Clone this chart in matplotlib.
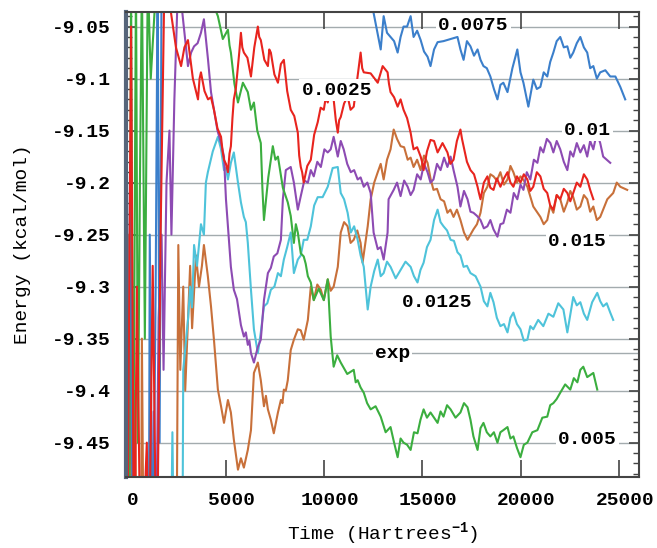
import matplotlib
matplotlib.use("Agg")
import matplotlib.pyplot as plt
import matplotlib.transforms as mtransforms
from matplotlib.ticker import MultipleLocator

plt.rcParams['font.family'] = ['Liberation Mono', 'DejaVu Sans']
plt.rcParams['font.weight'] = 'bold'
plt.rcParams['axes.unicode_minus'] = False
plt.rcParams['mathtext.fontset'] = 'custom'
plt.rcParams['mathtext.rm'] = 'Liberation Mono:bold'
plt.rcParams['mathtext.it'] = 'Liberation Mono:bold'
plt.rcParams['mathtext.bf'] = 'Liberation Mono:bold'

# energy traces: (time in Hartree^-1, energy in kcal/mol)
run_0025 = [(0, -9.60), (200, -9.05), (350, -9.60), (500, -9.30), (700, -9.60), (1000, -9.45), (1100, -9.60),
            (1300, -9.28), (1500, -9.60), (1700, -9.25), (1900, -9.00), (2230, -9.037), (2480, -9.070),
            (2740, -9.088), (2910, -9.070), (3090, -9.063), (3340, -9.100), (3600, -9.120), (3680, -9.100),
            (3750, -9.094), (3930, -9.112), (4110, -9.120), (4260, -9.118), (4410, -9.130), (4590, -9.148),
            (4770, -9.156), (4850, -9.170), (4920, -9.178), (5020, -9.182), (5120, -9.190), (5200, -9.172),
            (5270, -9.165), (5350, -9.138), (5420, -9.120), (5520, -9.110), (5630, -9.088), (5700, -9.074),
            (5780, -9.056), (5850, -9.070), (5930, -9.075), (6110, -9.080), (6290, -9.098), (6460, -9.070),
            (6640, -9.050), (6710, -9.060), (6790, -9.063), (6970, -9.082), (7150, -9.088), (7220, -9.072),
            (7300, -9.075), (7480, -9.096), (7660, -9.104), (7810, -9.086), (7960, -9.082), (8130, -9.112),
            (8310, -9.130), (8490, -9.136), (8670, -9.152), (8740, -9.174), (8820, -9.185), (8890, -9.190),
            (8970, -9.200), (9150, -9.184), (9330, -9.178), (9500, -9.154), (9680, -9.142), (9830, -9.128),
            (9990, -9.130), (10090, -9.118), (10190, -9.123), (10340, -9.110), (10490, -9.120), (10600, -9.140),
            (10700, -9.152), (10770, -9.140), (10850, -9.137), (11020, -9.124), (11200, -9.117), (11350, -9.130),
            (11510, -9.127), (11690, -9.100), (11860, -9.075), (11940, -9.090), (12020, -9.094), (12370, -9.095),
            (12730, -9.104), (12980, -9.088), (13230, -9.094), (13300, -9.105), (13380, -9.113), (13560, -9.118),
            (13740, -9.127), (13890, -9.120), (14040, -9.130), (14220, -9.138), (14400, -9.152), (14470, -9.160),
            (14550, -9.168), (14730, -9.166), (14910, -9.175), (14980, -9.180), (15060, -9.188), (15230, -9.170),
            (15410, -9.159), (15590, -9.160), (15770, -9.171), (16020, -9.162), (16270, -9.171), (16420, -9.182),
            (16580, -9.178), (16750, -9.160), (16930, -9.149), (17010, -9.158), (17090, -9.165), (17260, -9.180),
            (17440, -9.188), (17620, -9.192), (17800, -9.204), (17870, -9.210), (17950, -9.216), (18120, -9.200),
            (18300, -9.194), (18450, -9.205), (18610, -9.207), (18780, -9.196), (18960, -9.204), (19140, -9.196),
            (19320, -9.190), (19470, -9.200), (19620, -9.204), (19800, -9.194), (19980, -9.200), (20150, -9.192),
            (20330, -9.197), (20480, -9.208), (20630, -9.204), (20810, -9.190), (20990, -9.194), (21160, -9.206),
            (21340, -9.210), (21490, -9.222), (21650, -9.226), (21820, -9.212), (22000, -9.216), (22180, -9.206),
            (22360, -9.210), (22510, -9.218), (22660, -9.210), (22840, -9.200), (23020, -9.204), (23200, -9.192),
            (23370, -9.197), (23520, -9.207), (23680, -9.216)]

run_005 = [(0, -9.30), (100, -9.60), (200, -9.00), (300, -9.55), (450, -9.00), (550, -9.45), (650, -9.20),
           (750, -9.00), (900, -9.35), (1050, -9.00), (1200, -9.10), (1500, -9.00), (2500, -8.98), (3500, -9.00),
           (4400, -9.030), (4610, -9.040), (4860, -9.062), (5120, -9.053), (5200, -9.068), (5270, -9.075),
           (5450, -9.105), (5630, -9.123), (5880, -9.104), (6130, -9.113), (6290, -9.130), (6440, -9.123),
           (6610, -9.150), (6790, -9.162), (6870, -9.205), (6950, -9.236), (7170, -9.195), (7400, -9.165),
           (7530, -9.178), (7660, -9.175), (7910, -9.205), (8160, -9.219), (8310, -9.232), (8470, -9.258),
           (8570, -9.240), (8670, -9.248), (8820, -9.268), (8970, -9.271), (9070, -9.278), (9180, -9.290),
           (9330, -9.296), (9480, -9.313), (9730, -9.302), (9990, -9.313), (10190, -9.293), (10340, -9.348),
           (10490, -9.377), (10670, -9.366), (10850, -9.373), (11180, -9.384), (11510, -9.380), (11610, -9.392),
           (11710, -9.390), (11860, -9.397), (12020, -9.402), (12190, -9.412), (12370, -9.418), (12620, -9.415),
           (12880, -9.425), (13130, -9.440), (13380, -9.435), (13560, -9.450), (13740, -9.464), (13890, -9.446),
           (14040, -9.450), (14220, -9.452), (14400, -9.457), (14570, -9.440), (14750, -9.441), (14900, -9.428),
           (15060, -9.418), (15230, -9.426), (15410, -9.421), (15590, -9.426), (15770, -9.431), (15920, -9.420),
           (16070, -9.425), (16250, -9.414), (16430, -9.418), (16680, -9.426), (16930, -9.421), (17110, -9.412),
           (17290, -9.416), (17440, -9.428), (17590, -9.444), (17800, -9.457), (17950, -9.436), (18100, -9.431),
           (18270, -9.440), (18450, -9.444), (18630, -9.440), (18810, -9.450), (18960, -9.440), (19110, -9.438),
           (19320, -9.435), (19470, -9.446), (19620, -9.444), (19800, -9.455), (19980, -9.464), (20150, -9.452),
           (20330, -9.450), (20580, -9.440), (20840, -9.438), (21090, -9.426), (21340, -9.425), (21490, -9.414),
           (21650, -9.412), (21820, -9.408), (22000, -9.402), (22250, -9.394), (22510, -9.399), (22690, -9.388),
           (22870, -9.392), (23020, -9.380), (23170, -9.377), (23370, -9.387), (23680, -9.383), (23880, -9.399)]

run_0075 = [(0, -9.60), (150, -9.18), (300, -9.60), (1100, -9.60), (1150, -9.25), (1300, -9.60), (1450, -9.30),
            (1550, -9.00), (1650, -9.45), (1750, -9.00), (2000, -9.00), (2500, -8.95), (12000, -9.00),
            (12520, -9.037), (12880, -9.072), (13030, -9.040), (13200, -9.056), (13380, -9.060), (13560, -9.064),
            (13740, -9.075), (13890, -9.060), (14040, -9.050), (14220, -9.050), (14400, -9.040), (14550, -9.060),
            (14730, -9.054), (14910, -9.063), (15080, -9.074), (15260, -9.079), (15410, -9.088), (15590, -9.072),
            (15770, -9.065), (16070, -9.064), (16780, -9.060), (16930, -9.072), (17090, -9.082), (17260, -9.064),
            (17440, -9.069), (17620, -9.078), (17800, -9.072), (17950, -9.082), (18100, -9.088), (18270, -9.090),
            (18450, -9.098), (18630, -9.110), (18810, -9.120), (18960, -9.106), (19110, -9.104), (19320, -9.113),
            (19570, -9.090), (19820, -9.072), (19980, -9.094), (20130, -9.104), (20380, -9.127), (20630, -9.101),
            (20810, -9.110), (20990, -9.108), (21160, -9.094), (21340, -9.098), (21490, -9.084), (21650, -9.075),
            (21820, -9.064), (22000, -9.060), (22180, -9.070), (22360, -9.069), (22510, -9.080), (22660, -9.075),
            (22840, -9.066), (23020, -9.060), (23200, -9.070), (23370, -9.075), (23520, -9.090), (23680, -9.088),
            (23860, -9.100), (24030, -9.094), (24290, -9.092), (24540, -9.098), (24800, -9.098), (25050, -9.108),
            (25300, -9.120)]

run_01 = [(0, -9.55), (1250, -9.60), (1350, -9.42), (1450, -9.60), (1600, -9.33), (1750, -9.25), (1850, -9.38),
          (2000, -9.20), (2150, -9.15), (2250, -9.25), (2400, -9.12), (2600, -9.00), (3090, -9.088), (3250, -9.075),
          (3400, -9.069), (3580, -9.066), (3750, -9.056), (3900, -9.043), (4110, -9.082), (4260, -9.113),
          (4410, -9.130), (4590, -9.150), (4770, -9.162), (4920, -9.175), (5020, -9.216), (5170, -9.255),
          (5270, -9.281), (5420, -9.303), (5580, -9.312), (5780, -9.337), (5930, -9.348), (6030, -9.344),
          (6130, -9.356), (6210, -9.352), (6290, -9.364), (6440, -9.373), (6640, -9.358), (6790, -9.351),
          (6950, -9.313), (7150, -9.287), (7300, -9.282), (7450, -9.271), (7630, -9.268), (7810, -9.255),
          (7910, -9.216), (8060, -9.188), (8310, -9.185), (8470, -9.200), (8670, -9.226), (8820, -9.213),
          (9000, -9.198), (9180, -9.200), (9330, -9.188), (9480, -9.194), (9660, -9.180), (9840, -9.185),
          (10020, -9.168), (10190, -9.171), (10340, -9.168), (10490, -9.156), (10700, -9.175), (10850, -9.160),
          (11000, -9.168), (11180, -9.182), (11360, -9.190), (11530, -9.188), (11710, -9.197), (11860, -9.195),
          (12020, -9.204), (12200, -9.200), (12370, -9.210), (12520, -9.248), (12730, -9.264), (12880, -9.262),
          (13030, -9.274), (13230, -9.248), (13280, -9.216), (13540, -9.207), (13710, -9.200), (13890, -9.213),
          (14070, -9.198), (14250, -9.204), (14400, -9.212), (14550, -9.207), (14730, -9.192), (14910, -9.197),
          (15080, -9.182), (15260, -9.190), (15410, -9.200), (15560, -9.197), (15740, -9.182), (15920, -9.188),
          (16100, -9.176), (16270, -9.185), (16430, -9.175), (16580, -9.188), (16780, -9.204), (16930, -9.223),
          (17110, -9.208), (17290, -9.216), (17440, -9.228), (17590, -9.229), (17770, -9.232), (17950, -9.236),
          (18120, -9.244), (18300, -9.242), (18450, -9.236), (18610, -9.245), (18810, -9.252), (18960, -9.240),
          (19110, -9.239), (19290, -9.226), (19470, -9.229), (19640, -9.210), (19820, -9.216), (19980, -9.202),
          (20130, -9.207), (20300, -9.190), (20480, -9.197), (20660, -9.178), (20840, -9.181), (20990, -9.166),
          (21140, -9.171), (21320, -9.158), (21500, -9.162), (21650, -9.171), (21820, -9.160), (22000, -9.168),
          (22180, -9.180), (22360, -9.188), (22510, -9.170), (22660, -9.175), (22840, -9.162), (23020, -9.171),
          (23200, -9.164), (23370, -9.175), (23520, -9.160), (23680, -9.168), (23860, -9.152), (24030, -9.162),
          (24180, -9.175), (24540, -9.181)]

run_0125 = [(0, -9.60), (2200, -9.60), (2300, -9.44), (2400, -9.60), (2800, -9.60), (2850, -9.38), (3100, -9.33),
            (3200, -9.30), (3300, -9.32), (3400, -9.26), (3550, -9.28), (3750, -9.24), (3900, -9.25), (4000, -9.20),
            (4100, -9.19), (4350, -9.170), (4610, -9.156), (4770, -9.168), (4920, -9.188), (5020, -9.186),
            (5120, -9.197), (5270, -9.181), (5420, -9.171), (5630, -9.200), (5780, -9.219), (5930, -9.233),
            (6030, -9.238), (6130, -9.258), (6290, -9.303), (6440, -9.341), (6640, -9.364), (6790, -9.344),
            (6950, -9.319), (7120, -9.316), (7300, -9.303), (7480, -9.300), (7660, -9.287), (7810, -9.290),
            (7960, -9.274), (8130, -9.262), (8310, -9.248), (8470, -9.287), (8670, -9.274), (8820, -9.270),
            (8970, -9.255), (9150, -9.255), (9330, -9.242), (9500, -9.222), (9680, -9.214), (9930, -9.214),
            (10190, -9.204), (10440, -9.186), (10700, -9.185), (10850, -9.210), (11020, -9.216), (11200, -9.229),
            (11360, -9.248), (11530, -9.242), (11710, -9.255), (11860, -9.270), (12020, -9.281), (12220, -9.322),
            (12370, -9.300), (12550, -9.285), (12730, -9.274), (12880, -9.290), (13030, -9.287), (13200, -9.276),
            (13380, -9.281), (13640, -9.292), (13890, -9.284), (14140, -9.276), (14400, -9.281), (14570, -9.290),
            (14750, -9.296), (14900, -9.284), (15060, -9.277), (15230, -9.262), (15410, -9.255), (15590, -9.236),
            (15770, -9.226), (15920, -9.238), (16070, -9.242), (16250, -9.246), (16430, -9.255), (16600, -9.256),
            (16780, -9.267), (16930, -9.270), (17090, -9.281), (17260, -9.280), (17440, -9.287), (17700, -9.290),
            (17950, -9.300), (18120, -9.314), (18300, -9.319), (18450, -9.306), (18610, -9.315), (18780, -9.330),
            (18960, -9.338), (19140, -9.336), (19320, -9.344), (19470, -9.330), (19620, -9.325), (19800, -9.336),
            (19980, -9.341), (20150, -9.352), (20330, -9.351), (20480, -9.338), (20630, -9.341), (20880, -9.332),
            (21140, -9.338), (21400, -9.326), (21650, -9.329), (21900, -9.316), (22160, -9.322), (22360, -9.344),
            (22660, -9.310), (22840, -9.318), (23020, -9.315), (23200, -9.326), (23370, -9.332), (23620, -9.315),
            (23880, -9.306), (24030, -9.314), (24180, -9.319), (24360, -9.316), (24540, -9.325), (24690, -9.332)]

run_015 = [(0, -9.60), (50, -9.25), (100, -9.60), (200, -9.30), (300, -9.60), (400, -9.40), (500, -9.60),
           (700, -9.60), (750, -9.35), (850, -9.60), (2500, -9.60), (2600, -9.26), (2700, -9.38), (2850, -9.30),
           (2950, -9.40), (3200, -9.28), (3300, -9.34), (3500, -9.27), (3650, -9.30), (3800, -9.28), (3900, -9.26),
           (4100, -9.290), (4260, -9.319), (4410, -9.351), (4610, -9.399), (4770, -9.415), (4920, -9.431),
           (5120, -9.409), (5270, -9.421), (5420, -9.447), (5630, -9.476), (5780, -9.465), (5930, -9.474),
           (6130, -9.457), (6290, -9.438), (6440, -9.383), (6640, -9.373), (6790, -9.390), (6950, -9.415),
           (7050, -9.405), (7150, -9.418), (7300, -9.428), (7450, -9.441), (7660, -9.421), (7810, -9.409),
           (7890, -9.412), (7960, -9.399), (8060, -9.400), (8160, -9.390), (8310, -9.361), (8470, -9.351),
           (8670, -9.341), (8820, -9.342), (8970, -9.351), (9180, -9.332), (9330, -9.300), (9480, -9.313),
           (9660, -9.298), (9840, -9.303), (9990, -9.313), (10190, -9.293), (10340, -9.304), (10490, -9.300),
           (10700, -9.281), (10850, -9.248), (11020, -9.238), (11200, -9.242), (11350, -9.258), (11510, -9.255),
           (11690, -9.246), (11860, -9.258), (11960, -9.277), (12220, -9.242), (12370, -9.216), (12550, -9.200),
           (12730, -9.190), (12880, -9.182), (13030, -9.197), (13200, -9.178), (13380, -9.168), (13540, -9.149),
           (13710, -9.158), (13890, -9.165), (14070, -9.166), (14250, -9.178), (14400, -9.176), (14550, -9.185),
           (14730, -9.178), (14910, -9.188), (15080, -9.174), (15260, -9.181), (15410, -9.196), (15560, -9.207),
           (15740, -9.206), (15920, -9.216), (16100, -9.218), (16270, -9.229), (16420, -9.226), (16580, -9.233),
           (16750, -9.226), (16930, -9.236), (17110, -9.248), (17290, -9.255), (17590, -9.245), (17770, -9.240),
           (17950, -9.229), (18120, -9.210), (18300, -9.204), (18450, -9.192), (18610, -9.194), (18780, -9.198),
           (18960, -9.190), (19140, -9.202), (19320, -9.197), (19470, -9.184), (19620, -9.190), (19800, -9.200),
           (19980, -9.194), (20150, -9.198), (20330, -9.204), (20630, -9.223), (20990, -9.233), (21160, -9.240),
           (21340, -9.236), (21490, -9.222), (21650, -9.229), (21820, -9.212), (22000, -9.216), (22180, -9.228),
           (22360, -9.219), (22510, -9.208), (22660, -9.214), (22840, -9.226), (23020, -9.223), (23200, -9.212),
           (23370, -9.216), (23520, -9.228), (23680, -9.223), (23860, -9.236), (24030, -9.233), (24390, -9.216),
           (24690, -9.210), (24870, -9.200), (25050, -9.204), (25400, -9.207)]

exp_energy = -9.364

yticks = [-9.05, -9.1, -9.15, -9.2, -9.25, -9.3, -9.35, -9.4, -9.45]
ytick_labels = ['-9.05', '-9.1', '-9.15', '-9.2', '-9.25', '-9.3', '-9.35', '-9.4', '-9.45']
xticks = [0, 5000, 10000, 15000, 20000, 25000]

fig = plt.figure(figsize=(6.57, 5.48), dpi=100)
ax = fig.add_axes([0.192, 0.1296, 0.7806, 0.8485])

for y in yticks:
    ax.axhline(y, color='#a3abae', lw=1.0, zorder=0)
ax.axhline(exp_energy, color='#a3abae', lw=1.0, zorder=0)

lw = 1.5
for run, col in [(run_015, '#c8703a'), (run_0125, '#4ec3da'), (run_01, '#8d4bb3'),
                 (run_005, '#3bae3f'), (run_0075, '#3b7fcb'), (run_0025, '#e8241e')]:
    t, e = zip(*run)
    ax.plot(t, e, color=col, lw=lw)

ax.set_xlim(-50, 26000)
ax.set_ylim(-9.483, -9.036)

ax.set_yticks(yticks)
ax.set_yticklabels(ytick_labels)
ax.yaxis.set_minor_locator(MultipleLocator(0.01))
ax.set_xticks(xticks)
ax.set_xticklabels([str(x) for x in xticks])

ax.tick_params(axis='y', which='major', direction='in', length=7, width=1.2,
               left=True, right=True, labelsize=14, pad=11, colors='#444444', labelcolor='black')
ax.tick_params(axis='y', which='minor', direction='in', length=4.5, width=1.0,
               left=True, right=True, colors='#444444')
ax.tick_params(axis='x', which='major', direction='in', length=12, width=1.2,
               top=True, bottom=True, labelsize=14, pad=11, colors='#444444', labelcolor='black')

# x tick labels sit a little right of their ticks in the original
shift = mtransforms.ScaledTranslation(0.055, 0, fig.dpi_scale_trans)
for lab in ax.get_xticklabels():
    lab.set_transform(lab.get_transform() + shift)

for s in ['top', 'right', 'bottom']:
    ax.spines[s].set_color('#444444')
    ax.spines[s].set_linewidth(1.5)
ax.spines['left'].set_color('#56657a')
ax.spines['left'].set_linewidth(3)

box = dict(facecolor='white', edgecolor='none', pad=1.5)
ax.text(17590, -9.049, '0.0075', fontsize=14, ha='center', va='center', bbox=box)
ax.text(10650, -9.111, '0.0025', fontsize=14, ha='center', va='center', bbox=box)
ax.text(23370, -9.150, '0.01', fontsize=14, ha='center', va='center', bbox=box)
ax.text(22870, -9.257, '0.015', fontsize=14, ha='center', va='center', bbox=box)
ax.text(15770, -9.315, '0.0125', fontsize=14, ha='center', va='center', bbox=box)
ax.text(13490, exp_energy, 'exp', fontsize=14, ha='center', va='center', bbox=box)
ax.text(23370, -9.447, '0.005', fontsize=14, ha='center', va='center', bbox=box)

ax.set_xlabel('Time (Hartrees$^{-1}$)', fontsize=14, labelpad=8)
ax.set_ylabel('Energy (kcal/mol)', fontsize=14, labelpad=15)

fig.savefig('out.png', dpi=100)
